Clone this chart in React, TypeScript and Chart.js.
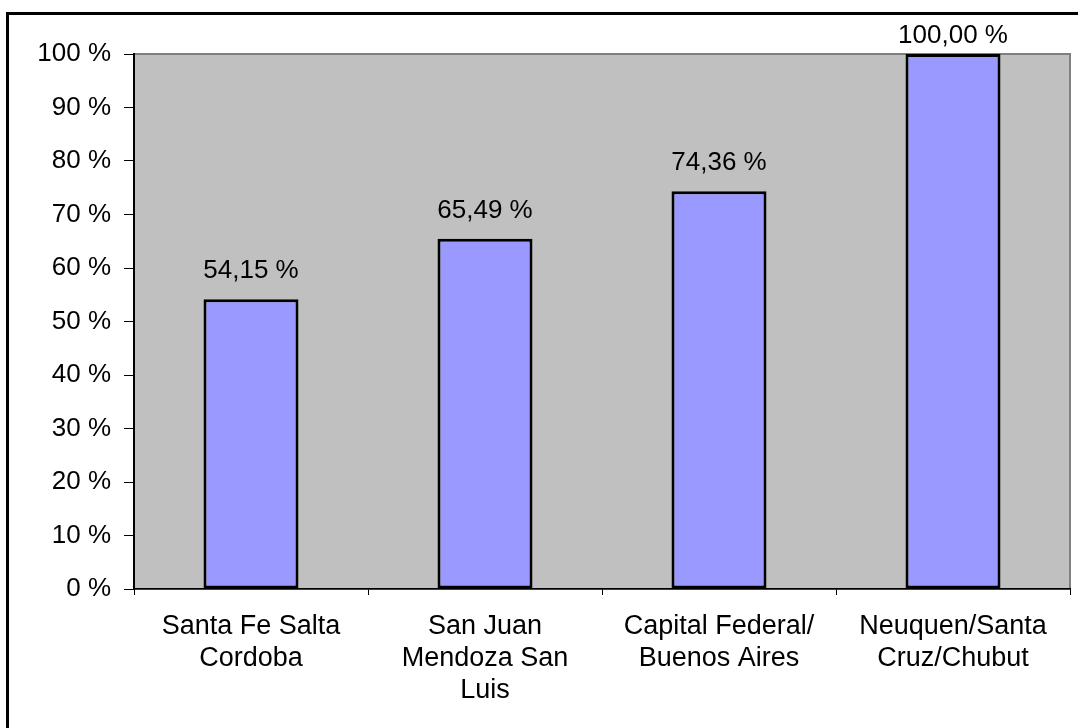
import React, { useEffect, useRef } from "react";
import { Chart, registerables } from "chart.js";

Chart.register(...registerables);

const categories: string[][] = [
  ["Santa Fe Salta", "Cordoba"],
  ["San Juan", "Mendoza San", "Luis"],
  ["Capital Federal/", "Buenos Aires"],
  ["Neuquen/Santa", "Cruz/Chubut"],
];
const values: number[] = [54.15, 65.49, 74.36, 100.0];
const yMin = 0;
const yMax = 100;
const yStep = 10;

const FONT = "'Liberation Sans', Arial, sans-serif";

const framePlugin = {
  id: "frame",
  beforeDraw(chart: any) {
    const { ctx, chartArea, width, height } = chart;
    ctx.save();
    ctx.fillStyle = "#ffffff";
    ctx.fillRect(0, 0, width, height);
    ctx.strokeStyle = "#000000";
    ctx.lineWidth = 3;
    ctx.strokeRect(7.5, 13.5, width + 20, height + 20);
    ctx.fillStyle = "#c0c0c0";
    ctx.fillRect(chartArea.left, chartArea.top, chartArea.right - chartArea.left, chartArea.bottom - chartArea.top);
    ctx.strokeStyle = "#808080";
    ctx.lineWidth = 2;
    ctx.strokeRect(chartArea.left, chartArea.top, chartArea.right - chartArea.left, chartArea.bottom - chartArea.top);
    ctx.restore();
  },
  afterDatasetsDraw(chart: any) {
    const { ctx } = chart;
    const meta = chart.getDatasetMeta(0);
    ctx.save();
    ctx.fillStyle = "#000000";
    ctx.font = `26px ${FONT}`;
    ctx.textAlign = "center";
    ctx.textBaseline = "alphabetic";
    meta.data.forEach((bar: any, i: number) => {
      const txt = values[i].toFixed(2).replace(".", ",") + " %";
      const y = Math.max(bar.y - 21, 43);
      ctx.fillText(txt, bar.x, y);
    });
    ctx.restore();
  },
};

export default function App() {
  const ref = useRef<HTMLCanvasElement | null>(null);
  useEffect(() => {
    if (!ref.current) return;
    const chart = new Chart(ref.current, {
      type: "bar",
      data: {
        labels: categories,
        datasets: [
          {
            data: values,
            backgroundColor: "#9999ff",
            borderColor: "#000000",
            borderWidth: 3,
            borderSkipped: false,
            barPercentage: 0.406,
            categoryPercentage: 1,
          },
        ],
      },
      options: {
        animation: false,
        responsive: false,
        devicePixelRatio: 1,
        color: "#000",
        layout: { padding: { top: 54, right: 8, left: 0, bottom: 0 } },
        plugins: {
          legend: { display: false },
          tooltip: { enabled: false },
        },
        scales: {
          x: {
            grid: {
              offset: true,
              drawOnChartArea: false,
              drawTicks: true,
              tickLength: 6,
              color: "#000000",
            },
            border: { color: "#000000", width: 1.5 },
            ticks: {
              color: "#000000",
              font: { family: FONT, size: 27, lineHeight: 1.185 },
              padding: 16,
              maxRotation: 0,
              autoSkip: false,
            },
            afterFit(scale: any) {
              scale.height = 139;
            },
          },
          y: {
            min: yMin,
            max: yMax,
            grid: {
              drawOnChartArea: false,
              drawTicks: true,
              tickLength: 10,
              color: "#000000",
            },
            border: { color: "#000000", width: 2 },
            ticks: {
              stepSize: yStep,
              color: "#000000",
              font: { family: FONT, size: 26 },
              padding: 13,
              callback: (v: any) => `${v} %`,
            },
            afterFit(scale: any) {
              scale.width = 134;
            },
          },
        },
      },
      plugins: [framePlugin],
    });
    return () => chart.destroy();
  }, []);
  return (
    <div style={{ position: "absolute", left: 0, top: 0, width: 1078, height: 728, background: "#fff" }}>
      <canvas ref={ref} width={1078} height={728} style={{ display: "block" }} />
    </div>
  );
}
